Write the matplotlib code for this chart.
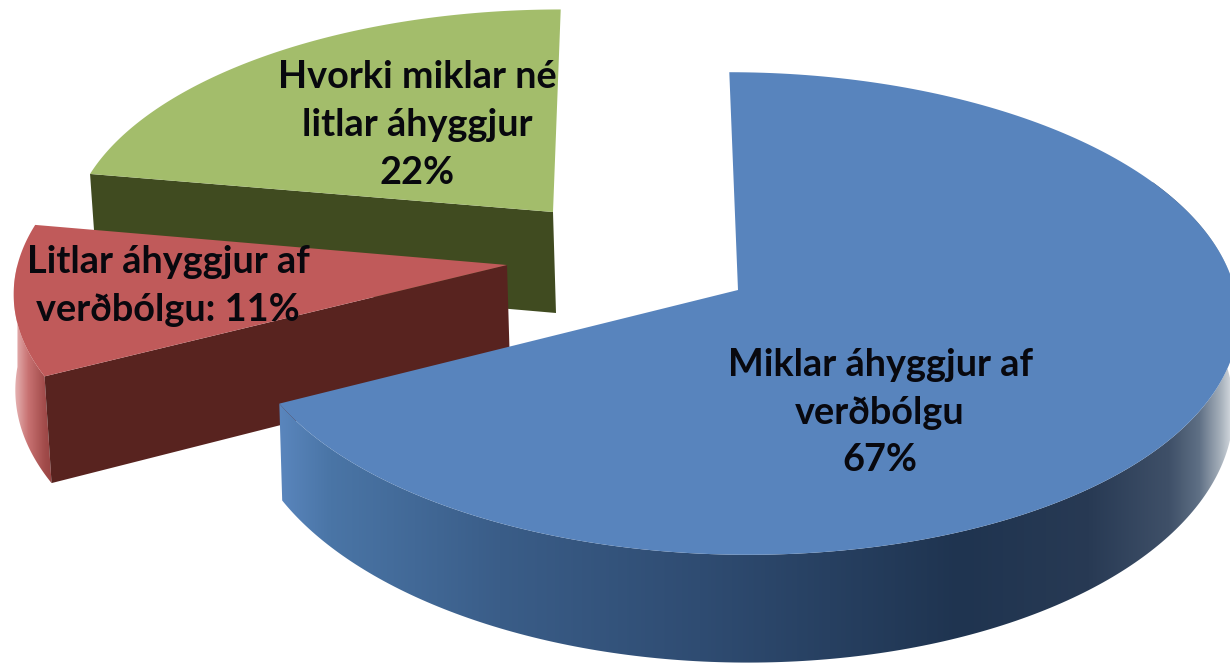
import numpy as np
import matplotlib
matplotlib.use("Agg")
import matplotlib.pyplot as plt
from matplotlib.colors import to_rgb
from matplotlib.patches import Polygon

# Data
categories = ["Miklar áhyggjur af\nverðbólgu\n67%",
              "Litlar áhyggjur af\nverðbólgu: 11%",
              "Hvorki miklar né\nlitlar áhyggjur\n22%"]
shares = [67, 11, 22]

# Style / layout per wedge
top_colors = ["#5884bd", "#c05a5a", "#a3bd6b"]
face_colors = [None, "#58231f", "#404b20"]
apexes = [(738, 290), (507, 265), (553, 212)]
scales = [(1.0, 1.0), (0.985, 0.98), (0.965, 0.93)]
depths = [89.0, 102.0, 101.0]
label_xy = [(880, 412.5), (168, 286), (417, 125)]
zorders = [5, 3, 1]

RX, RY, K, VX = 497.0, 239.0, 0.0974, 640.0


def project(theta_deg, i):
    t = np.radians(theta_deg + 2.1 * np.sin(np.radians(2 * np.asarray(theta_deg, float))))
    ax_, ay_ = apexes[i]
    sx, sy = scales[i]
    s = 1 / (1 + K * np.cos(t))
    x = ax_ + RX * sx * np.sin(t) * s + (ax_ - VX) * (s - 1)
    y = ay_ - RY * sy * np.cos(t) * s
    return x, y, s


def gradient_wall(ax, verts, stops, z):
    xs = np.array([p[0] for p in verts])
    ys = np.array([p[1] for p in verts])
    grid = np.linspace(xs.min(), xs.max(), 600)
    stop_x = [p for p, _ in stops]
    stop_c = np.array([to_rgb(c) for _, c in stops])
    rgb = np.stack([np.interp(grid, stop_x, stop_c[:, k]) for k in range(3)], axis=1)
    im = ax.imshow(rgb[np.newaxis, :, :], extent=(xs.min(), xs.max(), ys.max(), ys.min()),
                   aspect="auto", interpolation="bilinear", zorder=z)
    im.set_clip_path(Polygon(verts, closed=True, transform=ax.transData))


fig = plt.figure(figsize=(12.3, 6.65), dpi=100, facecolor="white")
ax = fig.add_axes([0, 0, 1, 1])
ax.axis("off")

edges = np.cumsum([0] + shares) / sum(shares) * 360.0
wall_stops = {
    0: [(279, "#5a86bd"), (330, "#4a75a6"), (500, "#3a5d88"), (700, "#2f4c72"), (960, "#1f3450"),
        (1090, "#283a54"), (1170, "#3f5068"), (1200, "#5f7085"), (1222, "#a8b2bc"), (1235, "#dfe3e8")],
    1: [(12, "#ecc0c0"), (28, "#c87272"), (45, "#a04a49"), (60, "#8f3d3c")],
}

for i in (2, 1, 0):
    a0, a1 = edges[i], edges[i + 1]
    z = zorders[i]
    th = np.linspace(a0, a1, 240)
    x, y, s = project(th, i)
    apex = apexes[i]
    d = depths[i]
    # cut face along the starting edge of the wedge
    if face_colors[i] is not None:
        fx, fy, fs = project(a0, i)
        ax.add_patch(Polygon([apex, (fx, fy), (fx + 7, fy + d * fs),
                              (apex[0] + 3, apex[1] + d)],
                             closed=True, fc=face_colors[i], ec="none", zorder=z + 0.5))
    # outer rim, only the part that faces the viewer
    if i in wall_stops:
        lo, hi = (60, a1) if i == 0 else (a0, 270)
        tw = np.linspace(lo, hi, 240)
        wx, wy, ws = project(tw, i)
        if i == 0:
            bx = wx - (wx - VX) * 0.008
            by = wy + d * ws ** 1.87
        else:
            bx = wx + 7 * (tw - hi) / (lo - hi)
            by = wy + d * ws
        verts = list(zip(wx, wy)) + list(zip(bx[::-1], by[::-1]))
        gradient_wall(ax, verts, wall_stops[i], z)
    # top surface
    ax.add_patch(Polygon([apex] + list(zip(x, y)), closed=True,
                         fc=top_colors[i], ec="none", zorder=z + 1))
    ax.text(label_xy[i][0], label_xy[i][1], categories[i], ha="center", va="center",
            family="Lato", fontweight="bold", fontsize=27.3, color="#08080e",
            linespacing=1.49, zorder=20)

ax.set_xlim(0, 1230)
ax.set_ylim(665, 0)
fig.savefig("out.png", dpi=100, facecolor="white")
